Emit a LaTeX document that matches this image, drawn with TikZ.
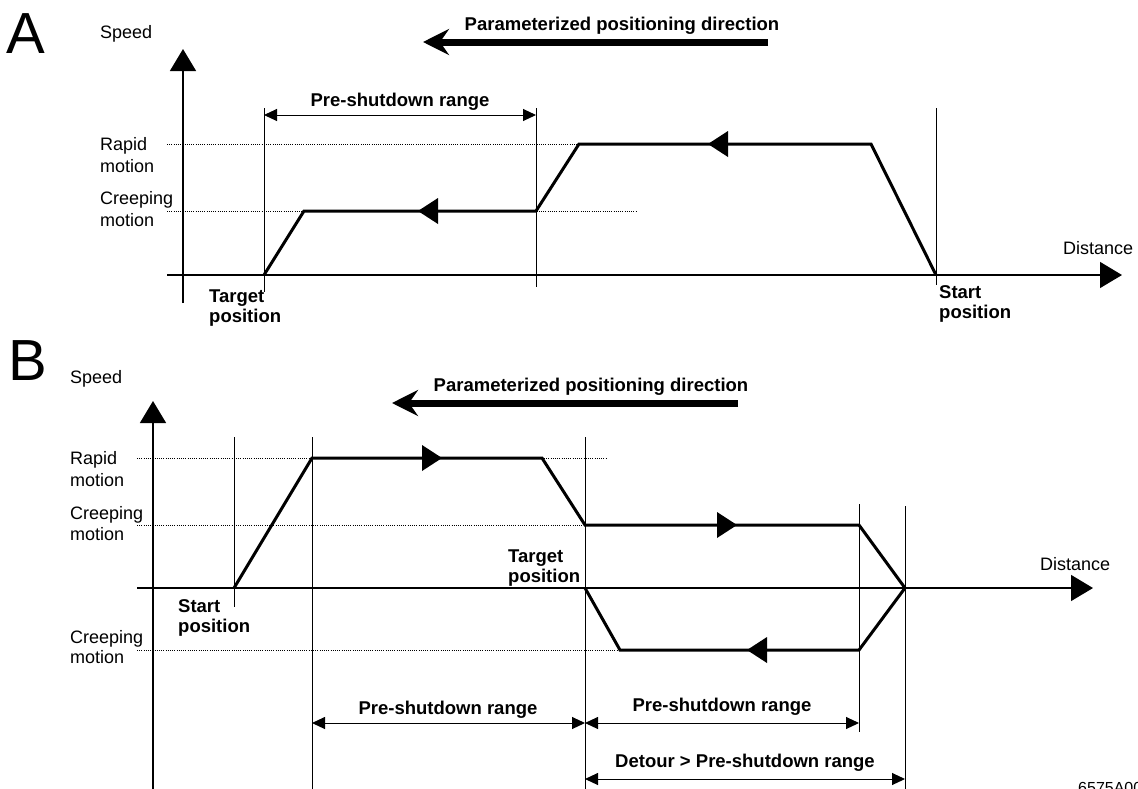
\documentclass[tikz,border=0pt]{standalone}
\usepackage{fontspec}
\setmainfont{Liberation Sans}
\usetikzlibrary{arrows.meta}
\begin{document}
\begin{tikzpicture}[x=1pt,y=-1pt,
  lbl/.style={font=\fontsize{18}{22}\selectfont, inner sep=0pt, anchor=base west},
  blbl/.style={font=\bfseries\fontsize{18.5}{22}\selectfont, inner sep=0pt, anchor=base west},
  clbl/.style={font=\bfseries\fontsize{18.5}{22}\selectfont, inner sep=0pt, anchor=base},
  big/.style={font=\fontsize{58}{62}\selectfont, inner sep=0pt, anchor=base west},
  axisline/.style={line width=1.4pt, -{Triangle[length=22pt,width=26pt]}},
  guide/.style={line width=0.8pt},
  dots/.style={line width=0.8pt, dash pattern=on 1pt off 1.2pt},
  profile/.style={line width=3pt, line join=miter},
  dim/.style={line width=1pt, {Triangle[length=13pt,width=12pt]}-{Triangle[length=13pt,width=12pt]}},
  dirarrow/.style={line width=7pt, -{Stealth[length=26pt,width=26pt,inset=9pt]}},
  pics/ltip/.style={code={\fill (0,0) -- (20,-13) -- (20,13) -- cycle;}},
  pics/rtip/.style={code={\fill (0,0) -- (-20,-13) -- (-20,13) -- cycle;}},
]
\useasboundingbox (0,0) rectangle (1138,788);

% ---------------- Panel A ----------------
\node[big] (labA) at (6,53) {A};
\node[lbl] (speedA) at (100,38) {Speed};
\node[lbl] (distA) at (1063,254) {Distance};
\node[lbl] (rapA1) at (100,150) {Rapid};
\node[lbl] (rapA2) at (100,172) {motion};
\node[lbl] (crA1) at (100,204) {Creeping};
\node[lbl] (crA2) at (100,226) {motion};

\coordinate (yA0) at (183,303);
\coordinate (yA1) at (183,49);
\coordinate (xA0) at (167,275);
\coordinate (xA1) at (1122,275);
\draw[axisline] (yA0) -- (yA1);
\draw[axisline] (xA0) -- (xA1);

\coordinate (dA1a) at (167,144); \coordinate (dA1b) at (579,144);
\coordinate (dA2a) at (167,211); \coordinate (dA2b) at (636,211);
\draw[dots] (dA1a) -- (dA1b);
\draw[dots] (dA2a) -- (dA2b);

\coordinate (gA1a) at (264,108); \coordinate (gA1b) at (264,292);
\coordinate (gA2a) at (536,108); \coordinate (gA2b) at (536,287);
\coordinate (gA3a) at (936,108); \coordinate (gA3b) at (936,285);
\draw[guide] (gA1a) -- (gA1b);
\draw[guide] (gA2a) -- (gA2b);
\draw[guide] (gA3a) -- (gA3b);

\coordinate (mA1) at (264,115); \coordinate (mA2) at (536,115);
\draw[dim] (mA1) -- (mA2);
\node[clbl] (preA) at (400,106) {Pre-shutdown range};

\draw[profile] (264,275) -- (304,211) -- (536,211) -- (579,144) -- (871,144) -- (936,275);
\path (418,211) pic {ltip};
\path (708,144) pic {ltip};

\coordinate (pA1) at (768,42); \coordinate (pA2) at (423,42);
\draw[dirarrow] (pA1) -- (pA2);
\node[clbl] (dirA) at (622,30) {Parameterized positioning direction};

\node[blbl] (tgA1) at (209,302) {Target};
\node[blbl] (tgA2) at (209,322) {position};
\node[blbl] (stA1) at (939,298) {Start};
\node[blbl] (stA2) at (939,318) {position};

% ---------------- Panel B ----------------
\node[big] (labB) at (8,380) {B};
\node[lbl] (speedB) at (70,383) {Speed};
\node[lbl] (distB) at (1040,570) {Distance};
\node[lbl] (rapB1) at (70,464) {Rapid};
\node[lbl] (rapB2) at (70,486) {motion};
\node[lbl] (crB1) at (70,519) {Creeping};
\node[lbl] (crB2) at (70,540) {motion};
\node[lbl] (crB3) at (70,643) {Creeping};
\node[lbl] (crB4) at (70,663) {motion};

\coordinate (yB0) at (153,792);
\coordinate (yB1) at (153,401);
\coordinate (xB0) at (137,588);
\coordinate (xB1) at (1093,588);
\draw[axisline] (yB0) -- (yB1);
\draw[axisline] (xB0) -- (xB1);

\coordinate (dB1a) at (137,458); \coordinate (dB1b) at (606,458);
\coordinate (dB2a) at (137,525); \coordinate (dB2b) at (585,525);
\coordinate (dB3a) at (137,650); \coordinate (dB3b) at (620,650);
\draw[dots] (dB1a) -- (dB1b);
\draw[dots] (dB2a) -- (dB2b);
\draw[dots] (dB3a) -- (dB3b);

\coordinate (gB1a) at (234,437); \coordinate (gB1b) at (234,607);
\coordinate (gB2a) at (312,437); \coordinate (gB2b) at (312,792);
\coordinate (gB3a) at (585,437); \coordinate (gB3b) at (585,792);
\coordinate (gB4a) at (859,504); \coordinate (gB4b) at (859,732);
\coordinate (gB5a) at (905,506); \coordinate (gB5b) at (905,792);
\draw[guide] (gB1a) -- (gB1b);
\draw[guide] (gB2a) -- (gB2b);
\draw[guide] (gB3a) -- (gB3b);
\draw[guide] (gB4a) -- (gB4b);
\draw[guide] (gB5a) -- (gB5b);

\draw[profile] (234,588) -- (312,458) -- (542,458) -- (585,525) -- (859,525) -- (905,588);
\draw[profile] (585,588) -- (620,650) -- (859,650) -- (905,588);
\path (442,458) pic {rtip};
\path (737,525) pic {rtip};
\path (747,650) pic {ltip};

\coordinate (pB1) at (738,403); \coordinate (pB2) at (392,403);
\draw[dirarrow] (pB1) -- (pB2);
\node[clbl] (dirB) at (591,391) {Parameterized positioning direction};

\node[blbl] (tgB1) at (508,562) {Target};
\node[blbl] (tgB2) at (508,582) {position};
\node[blbl] (stB1) at (178,612) {Start};
\node[blbl] (stB2) at (178,632) {position};

\coordinate (mB1) at (312,723); \coordinate (mB2) at (585,723);
\coordinate (mB3) at (859,723);
\coordinate (mB4) at (585,779); \coordinate (mB5) at (905,779);
\draw[dim] (mB1) -- (mB2);
\draw[dim] (mB2) -- (mB3);
\draw[dim] (mB4) -- (mB5);
\node[clbl] (preB1) at (448,714) {Pre-shutdown range};
\node[clbl] (preB2) at (722,711) {Pre-shutdown range};
\node[clbl] (preB3) at (745,767) {Detour > Pre-shutdown range};

\node[font=\fontsize{16}{18}\selectfont, inner sep=0pt, anchor=base west] (code) at (1078,793) {6575A00};
\end{tikzpicture}
\end{document}
